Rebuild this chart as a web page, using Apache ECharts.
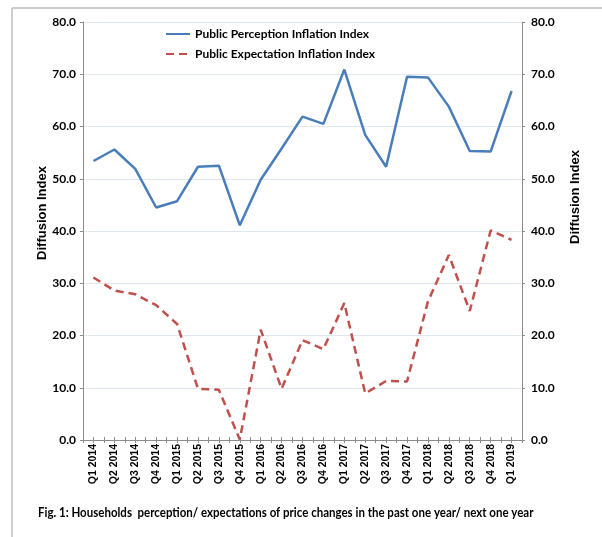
<!DOCTYPE html>
<html>
<head>
<meta charset="utf-8">
<script src="https://cdn.jsdelivr.net/npm/echarts@6/dist/echarts.min.js"></script>
<style>
  html, body { margin: 0; padding: 0; background: #fff; }
  #chart { width: 602px; height: 537px; }
</style>
</head>
<body>
<div id="chart"></div>
<script>
// quarters on the x axis
const quarters = [
  'Q1 2014', 'Q2 2014', 'Q3 2014', 'Q4 2014',
  'Q1 2015', 'Q2 2015', 'Q3 2015', 'Q4 2015',
  'Q1 2016', 'Q2 2016', 'Q3 2016', 'Q4 2016',
  'Q1 2017', 'Q2 2017', 'Q3 2017', 'Q4 2017',
  'Q1 2018', 'Q2 2018', 'Q3 2018', 'Q4 2018',
  'Q1 2019'
]
// diffusion index values
const perception = [53.4, 55.6, 51.9, 44.5, 45.7, 52.3, 52.5, 41.1, 49.8, 55.8, 61.9, 60.5, 70.9, 58.4, 52.3, 69.5, 69.4, 63.8, 55.3, 55.2, 66.8]
const expectation = [31.1, 28.6, 27.9, 25.8, 22.2, 9.8, 9.6, 0.1, 21.1, 9.8, 19.1, 17.4, 26.2, 8.9, 11.3, 11.2, 26.5, 35.4, 24.7, 40.1, 38.3]

const seriesNames = ['Public Perception Inflation Index', 'Public Expectation Inflation Index']
const axisName = 'Diffusion Index'
const caption = 'Fig. 1: Households  perception/ expectations of price changes in the past one year/ next one year'

const narrow = 'Lato, "Liberation Sans Narrow", sans-serif'
const wide = '"Liberation Sans", Arial, sans-serif'
const axisColor = '#8c8c8c'

// extra x axes only to draw the crossing tick marks (boundary + centre, in + out)
const tickAxis = (align, inside) => ({
  type: 'category',
  data: quarters,
  position: 'bottom',
  axisLine: { show: false },
  axisLabel: { show: false },
  axisTick: { show: true, alignWithLabel: align, inside, length: 3, interval: 0, lineStyle: { color: axisColor } }
})

const chart = echarts.init(document.getElementById('chart'))

chart.setOption({
  animation: false,
  grid: { left: 83, right: 80, top: 22, bottom: 97 },
  legend: {
    orient: 'vertical',
    left: 165,
    top: 28,
    padding: 0,
    itemWidth: 24,
    itemHeight: 14,
    itemGap: 8,
    data: seriesNames,
    itemStyle: { opacity: 0 },
    textStyle: { fontFamily: narrow, fontWeight: 'bold', fontSize: 12, color: '#000' }
  },
  xAxis: [
    {
      type: 'category',
      data: quarters,
      axisLine: { lineStyle: { color: axisColor, width: 1 } },
      axisTick: { show: true, alignWithLabel: false, length: 3, interval: 0, lineStyle: { color: axisColor } },
      axisLabel: {
        rotate: 90,
        interval: 0,
        margin: 4,
        fontFamily: wide,
        fontWeight: 'bold',
        fontSize: 10.5,
        color: '#000'
      }
    },
    tickAxis(false, true),
    tickAxis(true, false),
    tickAxis(true, true)
  ],
  yAxis: [
    {
      type: 'value',
      min: 0,
      max: 80,
      interval: 10,
      axisLine: { show: true, lineStyle: { color: axisColor } },
      axisTick: { show: true, length: 3, lineStyle: { color: axisColor } },
      splitLine: { lineStyle: { color: '#e1e7f1', width: 1 } },
      axisLabel: {
        margin: 7,
        formatter: v => v.toFixed(1),
        fontFamily: narrow,
        fontWeight: 'bold',
        fontSize: 12,
        color: '#000'
      }
    },
    {
      type: 'value',
      min: 0,
      max: 80,
      interval: 10,
      position: 'right',
      axisLine: { show: true, lineStyle: { color: axisColor } },
      axisTick: { show: true, length: 3, lineStyle: { color: axisColor } },
      splitLine: { show: false },
      axisLabel: {
        margin: 9,
        formatter: v => v.toFixed(1),
        fontFamily: narrow,
        fontWeight: 'bold',
        fontSize: 12,
        color: '#000'
      }
    }
  ],
  series: [
    {
      name: seriesNames[0],
      type: 'line',
      data: perception,
      symbol: 'none',
      color: '#4a7ebb',
      lineStyle: { width: 2.5, color: '#4a7ebb' }
    },
    {
      name: seriesNames[1],
      type: 'line',
      data: expectation,
      symbol: 'none',
      color: '#c0504d',
      lineStyle: { width: 2.5, color: '#c0504d', type: [8, 5] }
    }
  ],
  graphic: [
    { type: 'line', shape: { x1: 12, y1: 8, x2: 602, y2: 8 }, style: { stroke: '#bdbdbd', lineWidth: 1.5 } },
    { type: 'line', shape: { x1: 12, y1: 8, x2: 12, y2: 537 }, style: { stroke: '#bdbdbd', lineWidth: 1.5 } },
    {
      type: 'text', x: 42, y: 213, rotation: Math.PI / 2,
      style: { text: axisName, font: 'bold 13px ' + wide, fill: '#000', align: 'center', verticalAlign: 'middle' }
    },
    {
      type: 'text', x: 575, y: 197, rotation: Math.PI / 2,
      style: { text: axisName, font: 'bold 13px ' + wide, fill: '#000', align: 'center', verticalAlign: 'middle' }
    },
    {
      type: 'text', x: 38, y: 513, scaleX: 0.92,
      style: { text: caption, font: 'bold 12.5px ' + narrow, fill: '#000', align: 'left', verticalAlign: 'middle' }
    }
  ]
})
</script>
</body>
</html>
